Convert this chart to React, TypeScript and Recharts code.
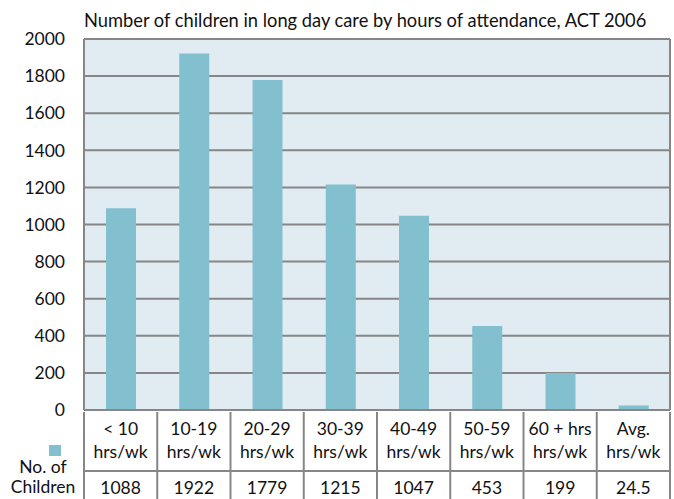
import { BarChart, Bar, XAxis, YAxis, CartesianGrid } from "recharts"

// categories: two-line labels as shown on the x axis
const labelTop = ["< 10", "10-19", "20-29", "30-39", "40-49", "50-59", "60 + hrs", "Avg."]
const labelBottom = ["hrs/wk", "hrs/wk", "hrs/wk", "hrs/wk", "hrs/wk", "hrs/wk", "hrs/wk", "hrs/wk"]
const children = [1088, 1922, 1779, 1215, 1047, 453, 199, 24.5]
const yTicks = [0, 200, 400, 600, 800, 1000, 1200, 1400, 1600, 1800, 2000]

const data = labelTop.map((t, i) => ({ name: t, sub: labelBottom[i], value: children[i] }))

const FONT = "Lato, 'Open Sans', sans-serif"
const GRID = "#868686"
const BAR = "#82bfcf"

const W = 674
const H = 499
const LEFT = 84
const RIGHT = 4
const TOP = 39
const AXIS_H = 89
const COL_W = (W - LEFT - RIGHT) / data.length

function TableTick(props: any) {
  const { x, y, index } = props
  const d = data[index]
  const left = x - COL_W / 2
  const right = x + COL_W / 2
  const last = index === data.length - 1
  return (
    <g>
      <line x1={left} y1={y} x2={left} y2={H} stroke={GRID} strokeWidth={2} />
      {last && <line x1={right} y1={y} x2={right} y2={H} stroke={GRID} strokeWidth={2} />}
      <line x1={left} y1={y + 59} x2={right} y2={y + 59} stroke={GRID} strokeWidth={2} />
      <text x={x} y={y + 23} textAnchor="middle" fontSize={17.5} fontFamily={FONT} fill="#111">
        {d.name}
      </text>
      <text x={x} y={y + 46} textAnchor="middle" fontSize={17.5} fontFamily={FONT} fill="#111">
        {d.sub}
      </text>
      <text x={x} y={y + 82} textAnchor="middle" fontSize={17.5} fontFamily={FONT} fill="#111">
        {d.value}
      </text>
    </g>
  )
}

export default function App() {
  return (
    <div style={{ position: "absolute", left: 0, top: 0, width: W, height: H, background: "#fff" }}>
      <div
        style={{
          position: "absolute",
          left: 84,
          top: 9,
          fontFamily: FONT,
          fontSize: 18.3,
          color: "#111",
          whiteSpace: "nowrap",
        }}
      >
        Number of children in long day care by hours of attendance, ACT 2006
      </div>
      <div style={{ position: "absolute", left: 49, top: 445, width: 12, height: 11, background: BAR }} />
      <div
        style={{
          position: "absolute",
          left: 2,
          top: 457,
          width: 82,
          textAlign: "center",
          fontFamily: FONT,
          fontSize: 17.5,
          lineHeight: "20px",
          color: "#111",
        }}
      >
        No. of
        <br />
        Children
      </div>
      <BarChart
        width={W}
        height={H}
        data={data}
        margin={{ top: TOP, right: RIGHT, left: 0, bottom: 0 }}
        barCategoryGap={0}
        style={{ position: "absolute", left: 0, top: 0 }}
      >
        <CartesianGrid
          fill="#e0ecf1"
          stroke={GRID}
          strokeWidth={2}
          verticalCoordinatesGenerator={({ offset }: any) => [offset.left, offset.left + offset.width]}
        />
        <XAxis
          dataKey="name"
          height={AXIS_H}
          interval={0}
          tickLine={false}
          axisLine={{ stroke: GRID, strokeWidth: 2 }}
          tickSize={0}
          tick={<TableTick />}
        />
        <YAxis
          width={LEFT}
          domain={[0, 2000]}
          ticks={yTicks}
          tickLine={false}
          axisLine={false}
          tickSize={0}
          tickMargin={19}
          tick={{ fontSize: 17.5, fontFamily: FONT, fill: "#111" }}
        />
        <Bar dataKey="value" fill={BAR} barSize={30} isAnimationActive={false} />
      </BarChart>
    </div>
  )
}
